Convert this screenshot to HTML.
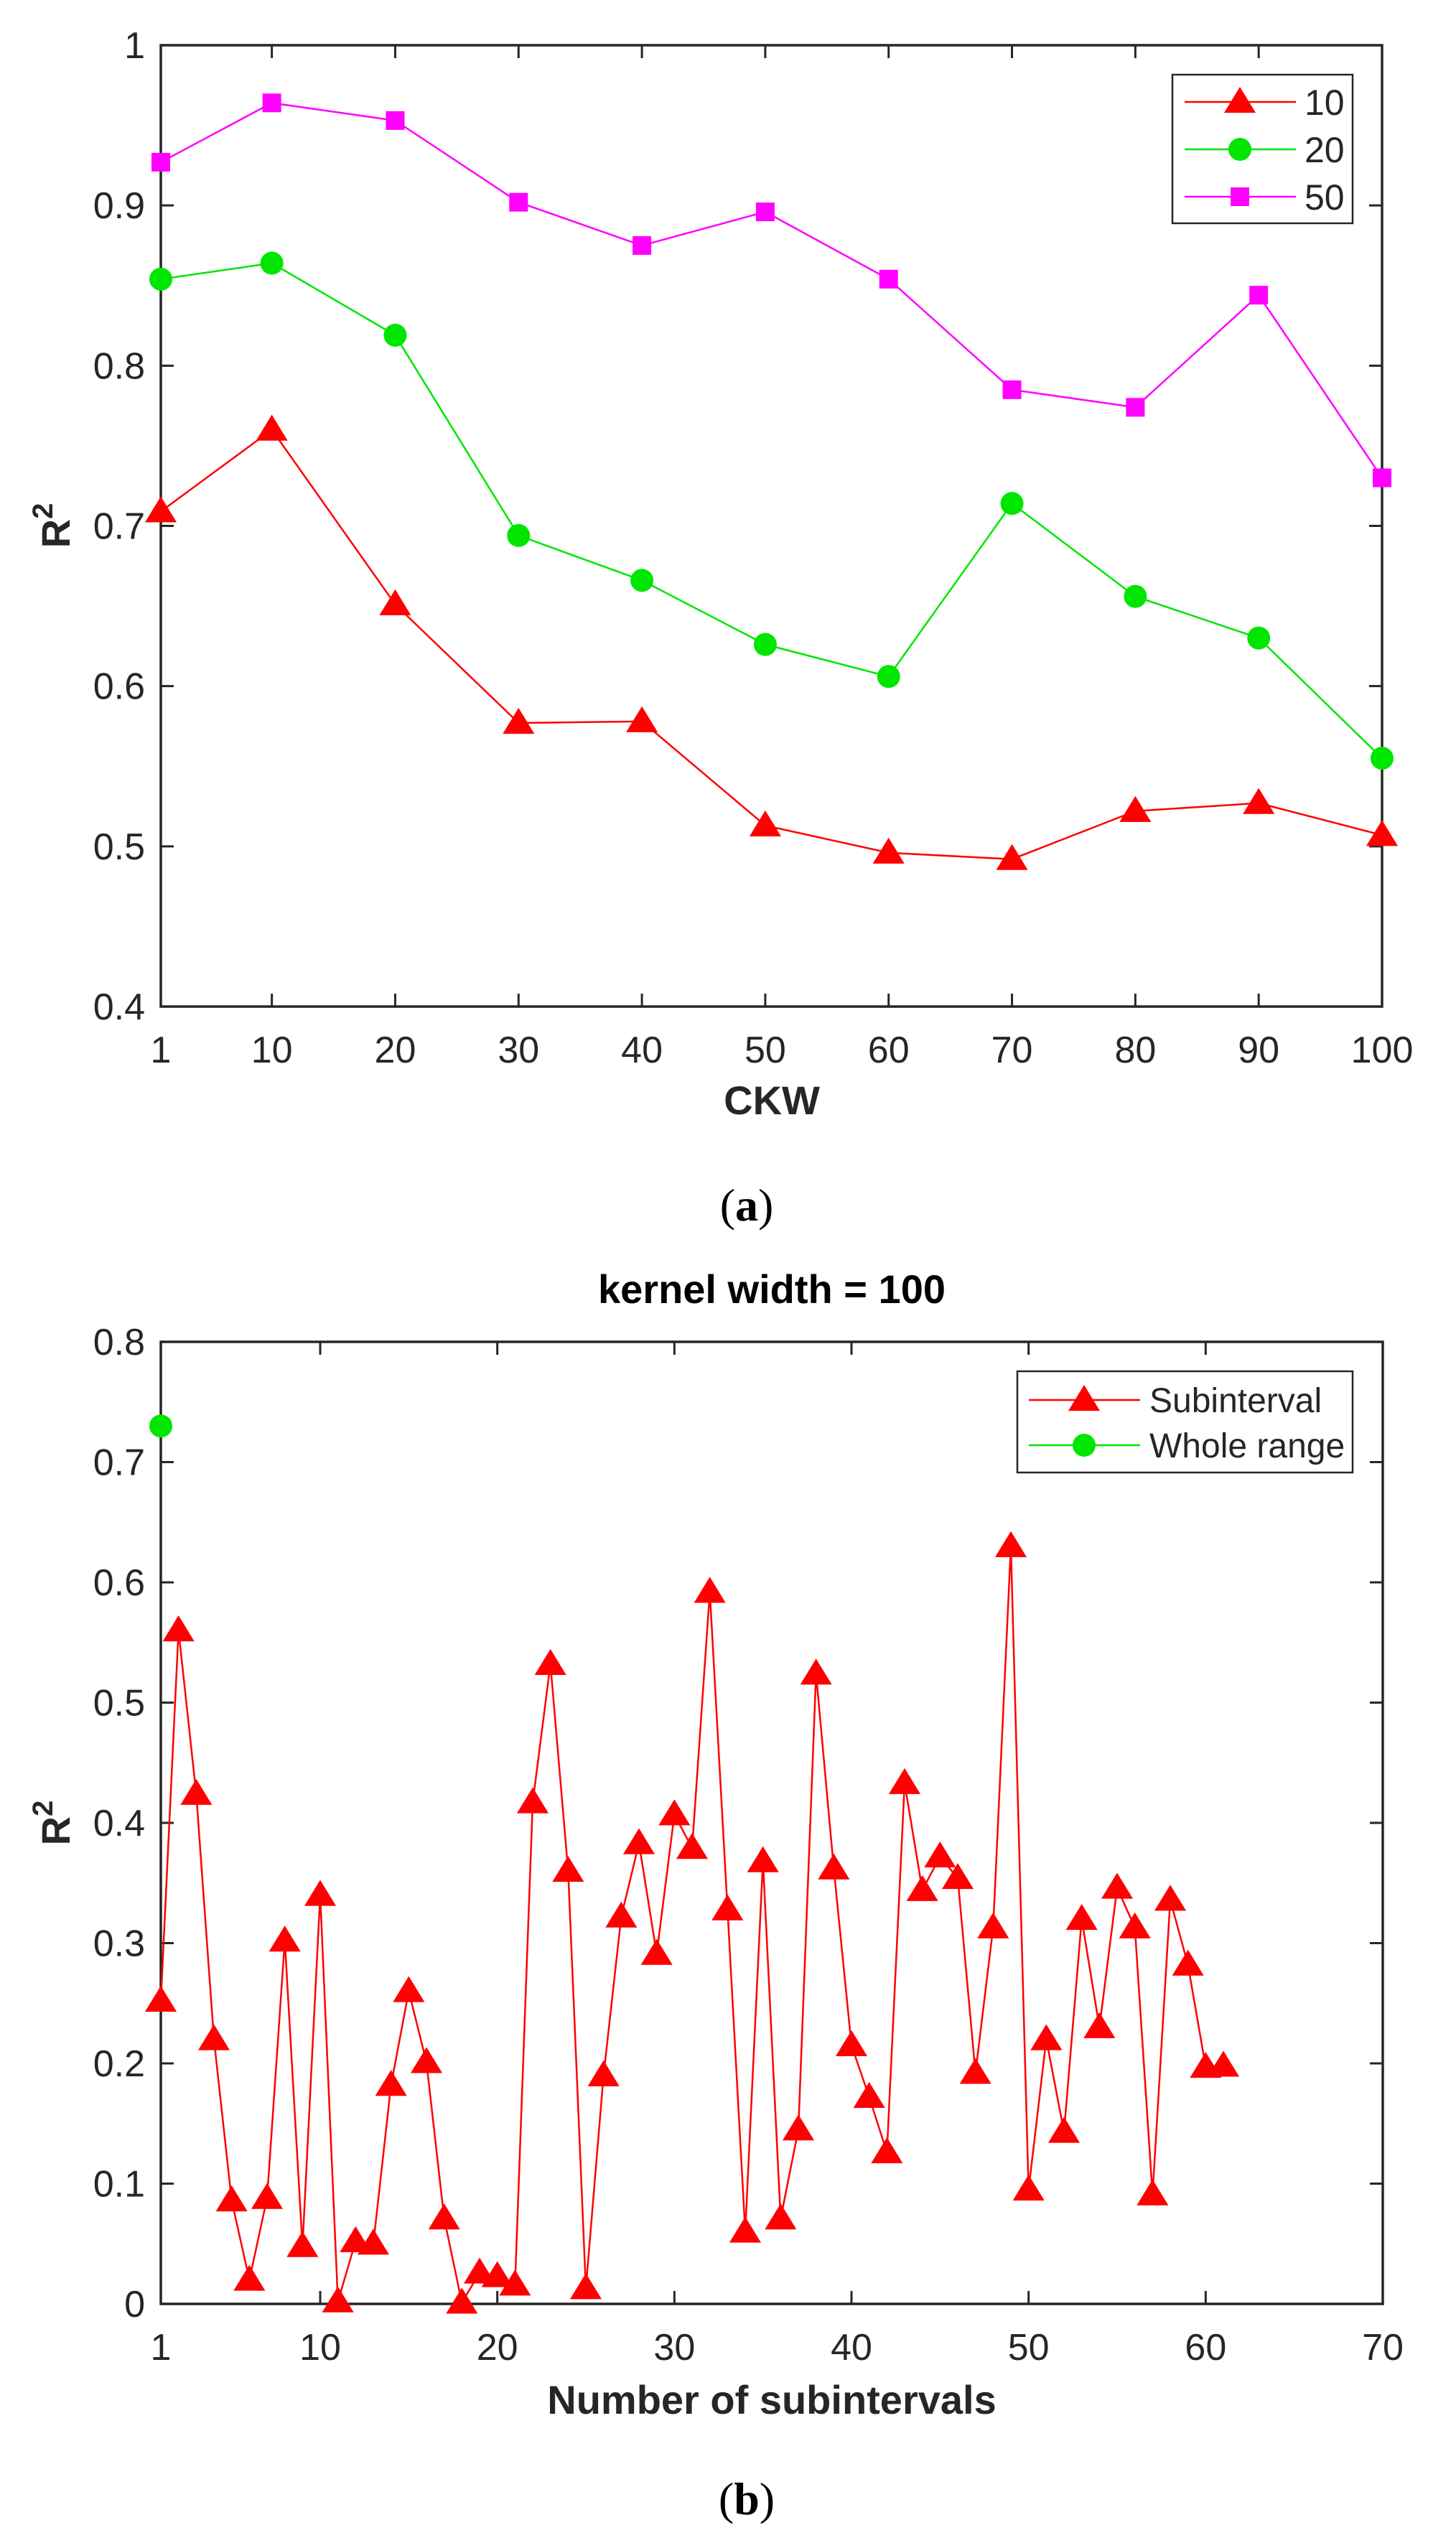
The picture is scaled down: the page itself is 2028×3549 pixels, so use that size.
<!DOCTYPE html>
<html><head><meta charset="utf-8"><style>
body{margin:0;background:#fff}
svg{display:block}
text{font-family:"Liberation Sans",Arial,sans-serif;fill:#262626}
</style></head><body>
<svg id="s" xmlns="http://www.w3.org/2000/svg" width="2028" height="3549" viewBox="0 0 2028 3549"></svg>
<script>
const S=document.getElementById('s');let h='';
function tri(x,y,c){const r=21;return `<polygon points="${x},${y-r} ${x+r*1.05},${y+r*0.72} ${x-r*1.05},${y+r*0.72}" fill="${c}"/>`;}
function circ(x,y,c){return `<circle cx="${x}" cy="${y}" r="16" fill="${c}"/>`;}
function sq(x,y,c){return `<rect x="${x-13}" y="${y-13}" width="26" height="26" fill="${c}"/>`;}
function axes(L,T,R,B,xt,xmin,xmax,yt,ymin,ymax){
 const fx=v=>L+(v-xmin)/(xmax-xmin)*(R-L), fy=v=>B-(v-ymin)/(ymax-ymin)*(B-T);
 let o=`<rect x="${L}" y="${T}" width="${R-L}" height="${B-T}" fill="none" stroke="#262626" stroke-width="3.5"/>`;
 xt.forEach(v=>{const x=fx(v);o+=`<line x1="${x}" y1="${B}" x2="${x}" y2="${B-18}" stroke="#262626" stroke-width="3"/><line x1="${x}" y1="${T}" x2="${x}" y2="${T+18}" stroke="#262626" stroke-width="3"/><text x="${x}" y="${B+78}" font-size="52" text-anchor="middle">${v}</text>`;});
 yt.forEach(v=>{const y=fy(v);o+=`<line x1="${L}" y1="${y}" x2="${L+18}" y2="${y}" stroke="#262626" stroke-width="3"/><line x1="${R}" y1="${y}" x2="${R-18}" y2="${y}" stroke="#262626" stroke-width="3"/><text x="${L-22}" y="${y+18}" font-size="52" text-anchor="end">${v}</text>`;});
 return {o,fx,fy};
}
function series(fx,fy,xs,ys,c,m){let p=xs.map((x,i)=>fx(x)+','+fy(ys[i])).join(' ');let o=`<polyline points="${p}" fill="none" stroke="${c}" stroke-width="2.5"/>`;xs.forEach((x,i)=>o+=m(fx(x),fy(ys[i]),c));return o;}
// Plot a
let A=axes(224,63,1925,1402,[1,10,20,30,40,50,60,70,80,90,100],1,100,[0.4,0.5,0.6,0.7,0.8,0.9,1],0.4,1);
h+=A.o;
const xa=[1,10,20,30,40,50,60,70,80,90,100];
h+=series(A.fx,A.fy,xa,[.927,.964,.953,.902,.875,.896,.854,.785,.774,.844,.730],'#ff00ff',sq);
h+=series(A.fx,A.fy,xa,[.854,.864,.819,.694,.666,.626,.606,.714,.656,.630,.555],'#00e600',circ);
h+=series(A.fx,A.fy,xa,[.709,.760,.651,.577,.578,.513,.496,.492,.522,.527,.507],'#ff0000',tri);
h+=`<text x="1075" y="1552" font-size="56" font-weight="bold" text-anchor="middle">CKW</text>`;
h+=`<text transform="translate(97,732) rotate(-90)" font-size="56" font-weight="bold" text-anchor="middle">R<tspan dy="-24" font-size="40">2</tspan></text>`;
h+=`<rect x="1633" y="104" width="251" height="207" fill="#fff" stroke="#262626" stroke-width="2.5"/>`;
[['10','#ff0000',tri,142],['20','#00e600',circ,208],['50','#ff00ff',sq,274]].forEach(([t,c,m,y])=>{h+=`<line x1="1650" y1="${y}" x2="1805" y2="${y}" stroke="${c}" stroke-width="2.5"/>`+m(1727,y,c)+`<text x="1817" y="${y+18}" font-size="50">${t}</text>`;});
h+=`<text x="1040" y="1700" font-size="64" text-anchor="middle" style="font-family:'Liberation Serif',serif;fill:#000">(<tspan font-weight="bold">a</tspan>)</text>`;
// Plot b
let B=axes(224,1869,1926,3209,[1,10,20,30,40,50,60,70],1,70,[0,0.1,0.2,0.3,0.4,0.5,0.6,0.7,0.8],0,0.8);
h+=B.o;
const yb=[.252,.560,.424,.220,.086,.020,.088,.302,.048,.340,.002,.052,.050,.182,.260,.201,.071,.001,.026,.023,.016,.417,.532,.360,.013,.190,.322,.383,.291,.407,.379,.592,.328,.060,.368,.071,.145,.524,.362,.215,.172,.126,.433,.344,.372,.354,.192,.313,.630,.095,.220,.143,.320,.230,.346,.313,.091,.336,.282,.197,.198];
h+=series(B.fx,B.fy,yb.map((_,i)=>i+1),yb,'#ff0000',tri);
h+=circ(B.fx(1),B.fy(.730),'#00e600');
h+=`<text x="1075" y="1815" font-size="56" font-weight="bold" text-anchor="middle" style="fill:#000">kernel width = 100</text>`;
h+=`<text x="1075" y="3362" font-size="56" font-weight="bold" text-anchor="middle">Number of subintervals</text>`;
h+=`<text transform="translate(97,2539) rotate(-90)" font-size="56" font-weight="bold" text-anchor="middle">R<tspan dy="-24" font-size="40">2</tspan></text>`;
h+=`<rect x="1417" y="1910" width="467" height="141" fill="#fff" stroke="#262626" stroke-width="2.5"/>`;
[['Subinterval','#ff0000',tri,1950],['Whole range','#00e600',circ,2013]].forEach(([t,c,m,y])=>{h+=`<line x1="1433" y1="${y}" x2="1588" y2="${y}" stroke="${c}" stroke-width="2.5"/>`+m(1510,y,c)+`<text x="1601" y="${y+17}" font-size="48">${t}</text>`;});
h+=`<text x="1040" y="3502" font-size="64" text-anchor="middle" style="font-family:'Liberation Serif',serif;fill:#000">(<tspan font-weight="bold">b</tspan>)</text>`;
S.innerHTML=h;
</script>
</body></html>
